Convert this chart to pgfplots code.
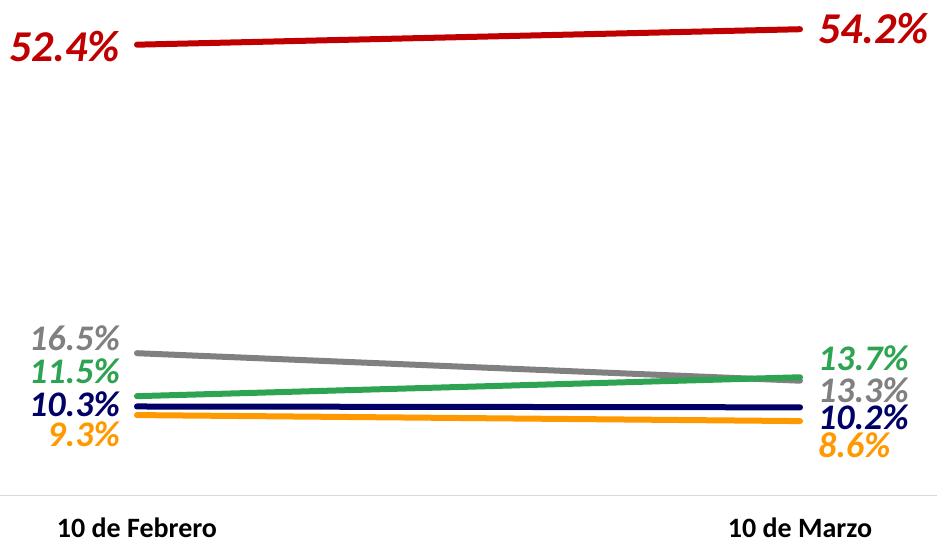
\documentclass[border=0pt]{standalone}
\usepackage{fontspec}
\setmainfont{Carlito}
\usepackage{pgfplots}
\pgfplotsset{compat=1.18}
\definecolor{cred}{HTML}{C00000}
\definecolor{cgray}{HTML}{808080}
\definecolor{cgreen}{HTML}{2EA352}
\definecolor{cnavy}{HTML}{000066}
\definecolor{corange}{HTML}{FF9900}
\definecolor{caxis}{HTML}{D9D9D9}
\begin{document}
\begin{tikzpicture}
\path[use as bounding box] (0,-52pt) rectangle (937pt,495pt);
\begin{axis}[
  at={(0,0)}, anchor=south west,
  scale only axis, width=937pt, height=495pt,
  xmin=-0.2066, xmax=1.2066, ymin=0, ymax=57.6,
  axis x line=bottom, axis y line=none,
  axis line style={-, draw=caxis, line width=1pt},
  xtick={0,1}, xticklabels={10 de Febrero,10 de Marzo},
  major tick length=0pt,
  xticklabel style={font=\fontsize{28}{32}\selectfont\bfseries, yshift=-19pt},
  /pgf/number format/assume math mode=true,
  ytick=\empty,
  clip=false,
  every axis plot/.append style={line width=6pt, line cap=round, mark=none},
]
\addplot[cred] coordinates {(0,52.4) (1,54.2)};
\addplot[cgray] coordinates {(0,16.5) (1,13.3)};
\addplot[cgreen] coordinates {(0,11.5) (1,13.7)};
\addplot[cnavy] coordinates {(0,10.3) (1,10.2)};
\addplot[corange] coordinates {(0,9.3) (1,8.6)};

\tikzset{lab/.style={inner sep=0pt}}
\node[lab, anchor=base east, text=cred, font=\fontsize{44}{48}\selectfont\bfseries\itshape] at (axis cs:-0.0256,50.50) {52.4\%};
\node[lab, anchor=base west, text=cred, font=\fontsize{44}{48}\selectfont\bfseries\itshape] at (axis cs:1.027,52.59) {54.2\%};
\node[lab, anchor=base east, text=cgray, font=\fontsize{36}{40}\selectfont\bfseries\itshape] at (axis cs:-0.0256,16.87) {16.5\%};
\node[lab, anchor=base east, text=cgreen, font=\fontsize{36}{40}\selectfont\bfseries\itshape] at (axis cs:-0.0256,13.03) {11.5\%};
\node[lab, anchor=base east, text=cnavy, font=\fontsize{36}{40}\selectfont\bfseries\itshape] at (axis cs:-0.0256,9.19) {10.3\%};
\node[lab, anchor=base east, text=corange, font=\fontsize{36}{40}\selectfont\bfseries\itshape] at (axis cs:-0.0256,5.59) {9.3\%};
\node[lab, anchor=base west, text=cgreen, font=\fontsize{36}{40}\selectfont\bfseries\itshape] at (axis cs:1.027,14.43) {13.7\%};
\node[lab, anchor=base west, text=cgray, font=\fontsize{36}{40}\selectfont\bfseries\itshape] at (axis cs:1.027,10.82) {13.3\%};
\node[lab, anchor=base west, text=cnavy, font=\fontsize{36}{40}\selectfont\bfseries\itshape] at (axis cs:1.027,7.68) {10.2\%};
\node[lab, anchor=base west, text=corange, font=\fontsize{36}{40}\selectfont\bfseries\itshape] at (axis cs:1.027,4.31) {8.6\%};
\end{axis}
\end{tikzpicture}
\end{document}
